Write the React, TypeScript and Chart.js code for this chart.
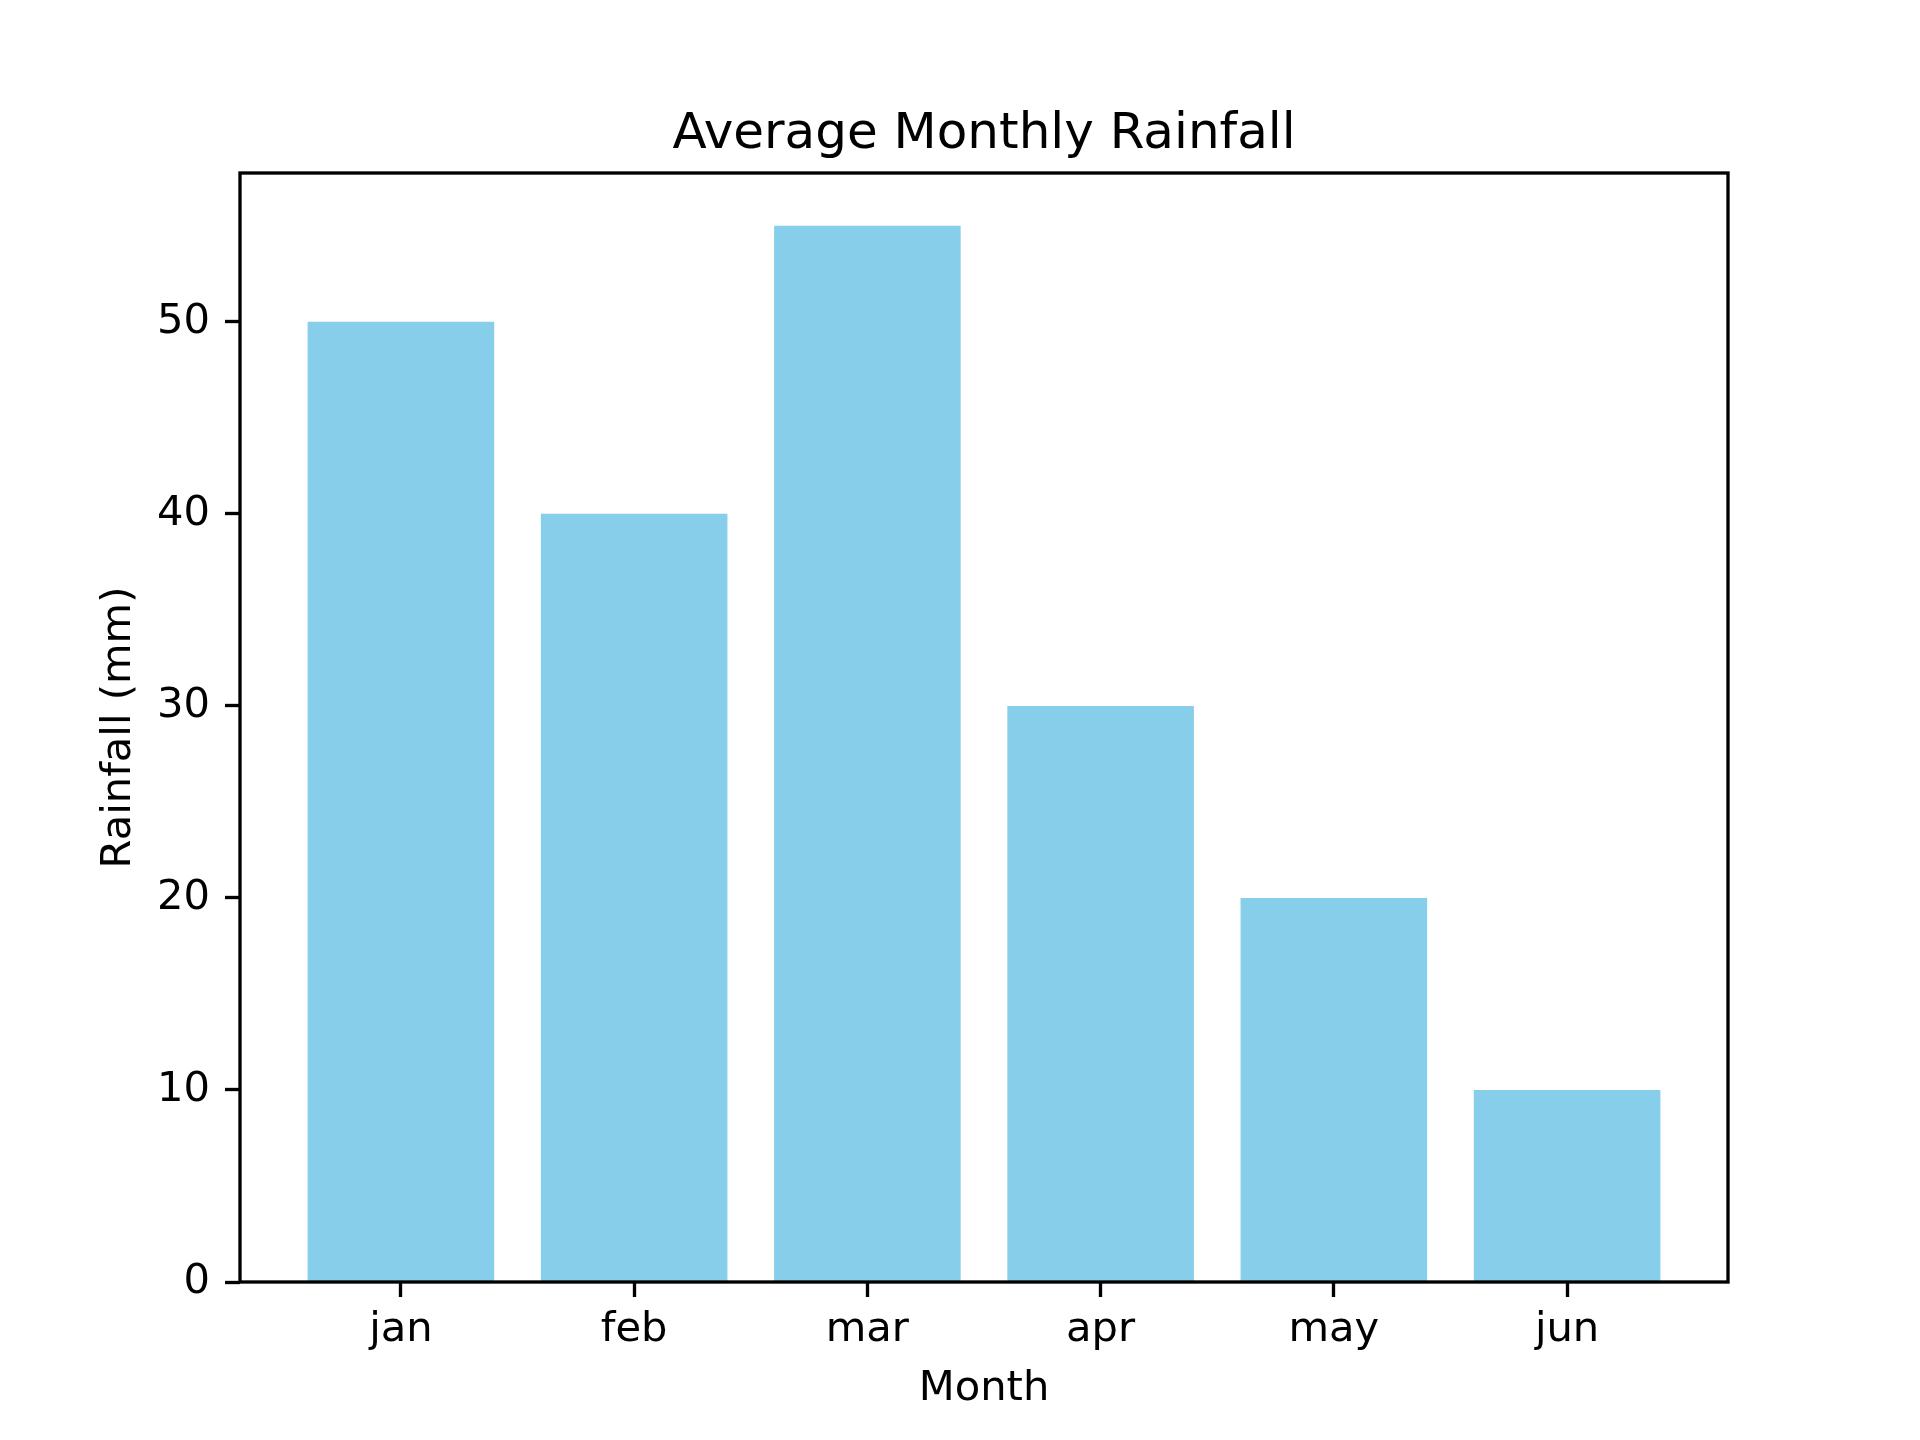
import React, { useEffect, useRef } from "react";
import { Chart, registerables } from "chart.js";

Chart.register(...registerables);

const months = ["jan", "feb", "mar", "apr", "may", "jun"];
const rainfall = [50, 40, 55, 30, 20, 10];
const yTicks = [0, 10, 20, 30, 40, 50];
const titleText = "Average Monthly Rainfall";
const xLabel = "Month";
const yLabel = "Rainfall (mm)";

const W = 1920;
const H = 1440;
const LW = 3.33;

const framePlugin = {
  id: "frame",
  afterDatasetsDraw(chart: any) {
    const { ctx, chartArea } = chart;
    ctx.save();
    ctx.strokeStyle = "#000";
    ctx.lineWidth = LW;
    ctx.strokeRect(
      chartArea.left,
      chartArea.top,
      chartArea.right - chartArea.left,
      chartArea.bottom - chartArea.top
    );
    ctx.fillStyle = "#000";
    ctx.font = "50px 'DejaVu Sans'";
    ctx.textAlign = "center";
    ctx.textBaseline = "alphabetic";
    ctx.fillText(titleText, (chartArea.left + chartArea.right) / 2, chartArea.top - 25);
    ctx.restore();
  },
};

export default function App() {
  const ref = useRef<HTMLCanvasElement>(null);

  useEffect(() => {
    if (!ref.current) return;
    const maxVal = Math.max(...rainfall) * 1.05;
    const n = months.length;
    const margin = (n - 1 + 0.8) * 0.05;
    const chart = new Chart(ref.current, {
      type: "bar",
      data: {
        datasets: [
          {
            data: rainfall.map((v, i) => ({ x: i, y: v })),
            backgroundColor: "#87CEEB",
            borderWidth: 0,
            barPercentage: 0.8,
            categoryPercentage: 1.0,
          },
        ],
      },
      plugins: [framePlugin],
      options: {
        animation: false,
        responsive: false,
        devicePixelRatio: 1,
        layout: { padding: { left: 0, right: W - 1728, top: 173, bottom: 0 } },
        plugins: {
          legend: { display: false },
          tooltip: { enabled: false },
          title: { display: false },
        },
        scales: {
          x: {
            type: "linear",
            offset: false,
            min: -0.4 - margin,
            max: n - 1 + 0.4 + margin,
            afterBuildTicks: (axis: any) => {
              axis.ticks = months.map((_, i) => ({ value: i }));
            },
            afterFit: (axis: any) => {
              axis.height = H - 1282;
            },
            border: { display: false },
            grid: {
              offset: false,
              drawOnChartArea: false,
              drawTicks: true,
              tickLength: 15,
              tickWidth: LW,
              tickColor: "#000",
            },
            ticks: {
              color: "#000",
              padding: 8,
              maxRotation: 0,
              font: { family: "DejaVu Sans", size: 41.67 },
              callback: (v: any) => months[v as number] ?? "",
            },
            title: {
              display: true,
              text: xLabel,
              color: "#000",
              font: { family: "DejaVu Sans", size: 41.67 },
              padding: { top: 0, bottom: 26 },
            },
          },
          y: {
            type: "linear",
            min: 0,
            max: maxVal,
            afterBuildTicks: (axis: any) => {
              axis.ticks = yTicks.map((v) => ({ value: v }));
            },
            afterFit: (axis: any) => {
              axis.width = 240;
            },
            border: { display: false },
            grid: {
              drawOnChartArea: false,
              drawTicks: true,
              tickLength: 15,
              tickWidth: LW,
              tickColor: "#000",
            },
            ticks: {
              color: "#000",
              padding: 15,
              font: { family: "DejaVu Sans", size: 41.67 },
            },
            title: {
              display: true,
              text: yLabel,
              color: "#000",
              font: { family: "DejaVu Sans", size: 41.67 },
              padding: { top: 94, bottom: 0 },
            },
          },
        },
      },
    } as any);
    return () => chart.destroy();
  }, []);

  return (
    <div style={{ position: "fixed", left: 0, top: 0, width: W, height: H, background: "#fff" }}>
      <canvas ref={ref} width={W} height={H} style={{ display: "block" }} />
    </div>
  );
}
